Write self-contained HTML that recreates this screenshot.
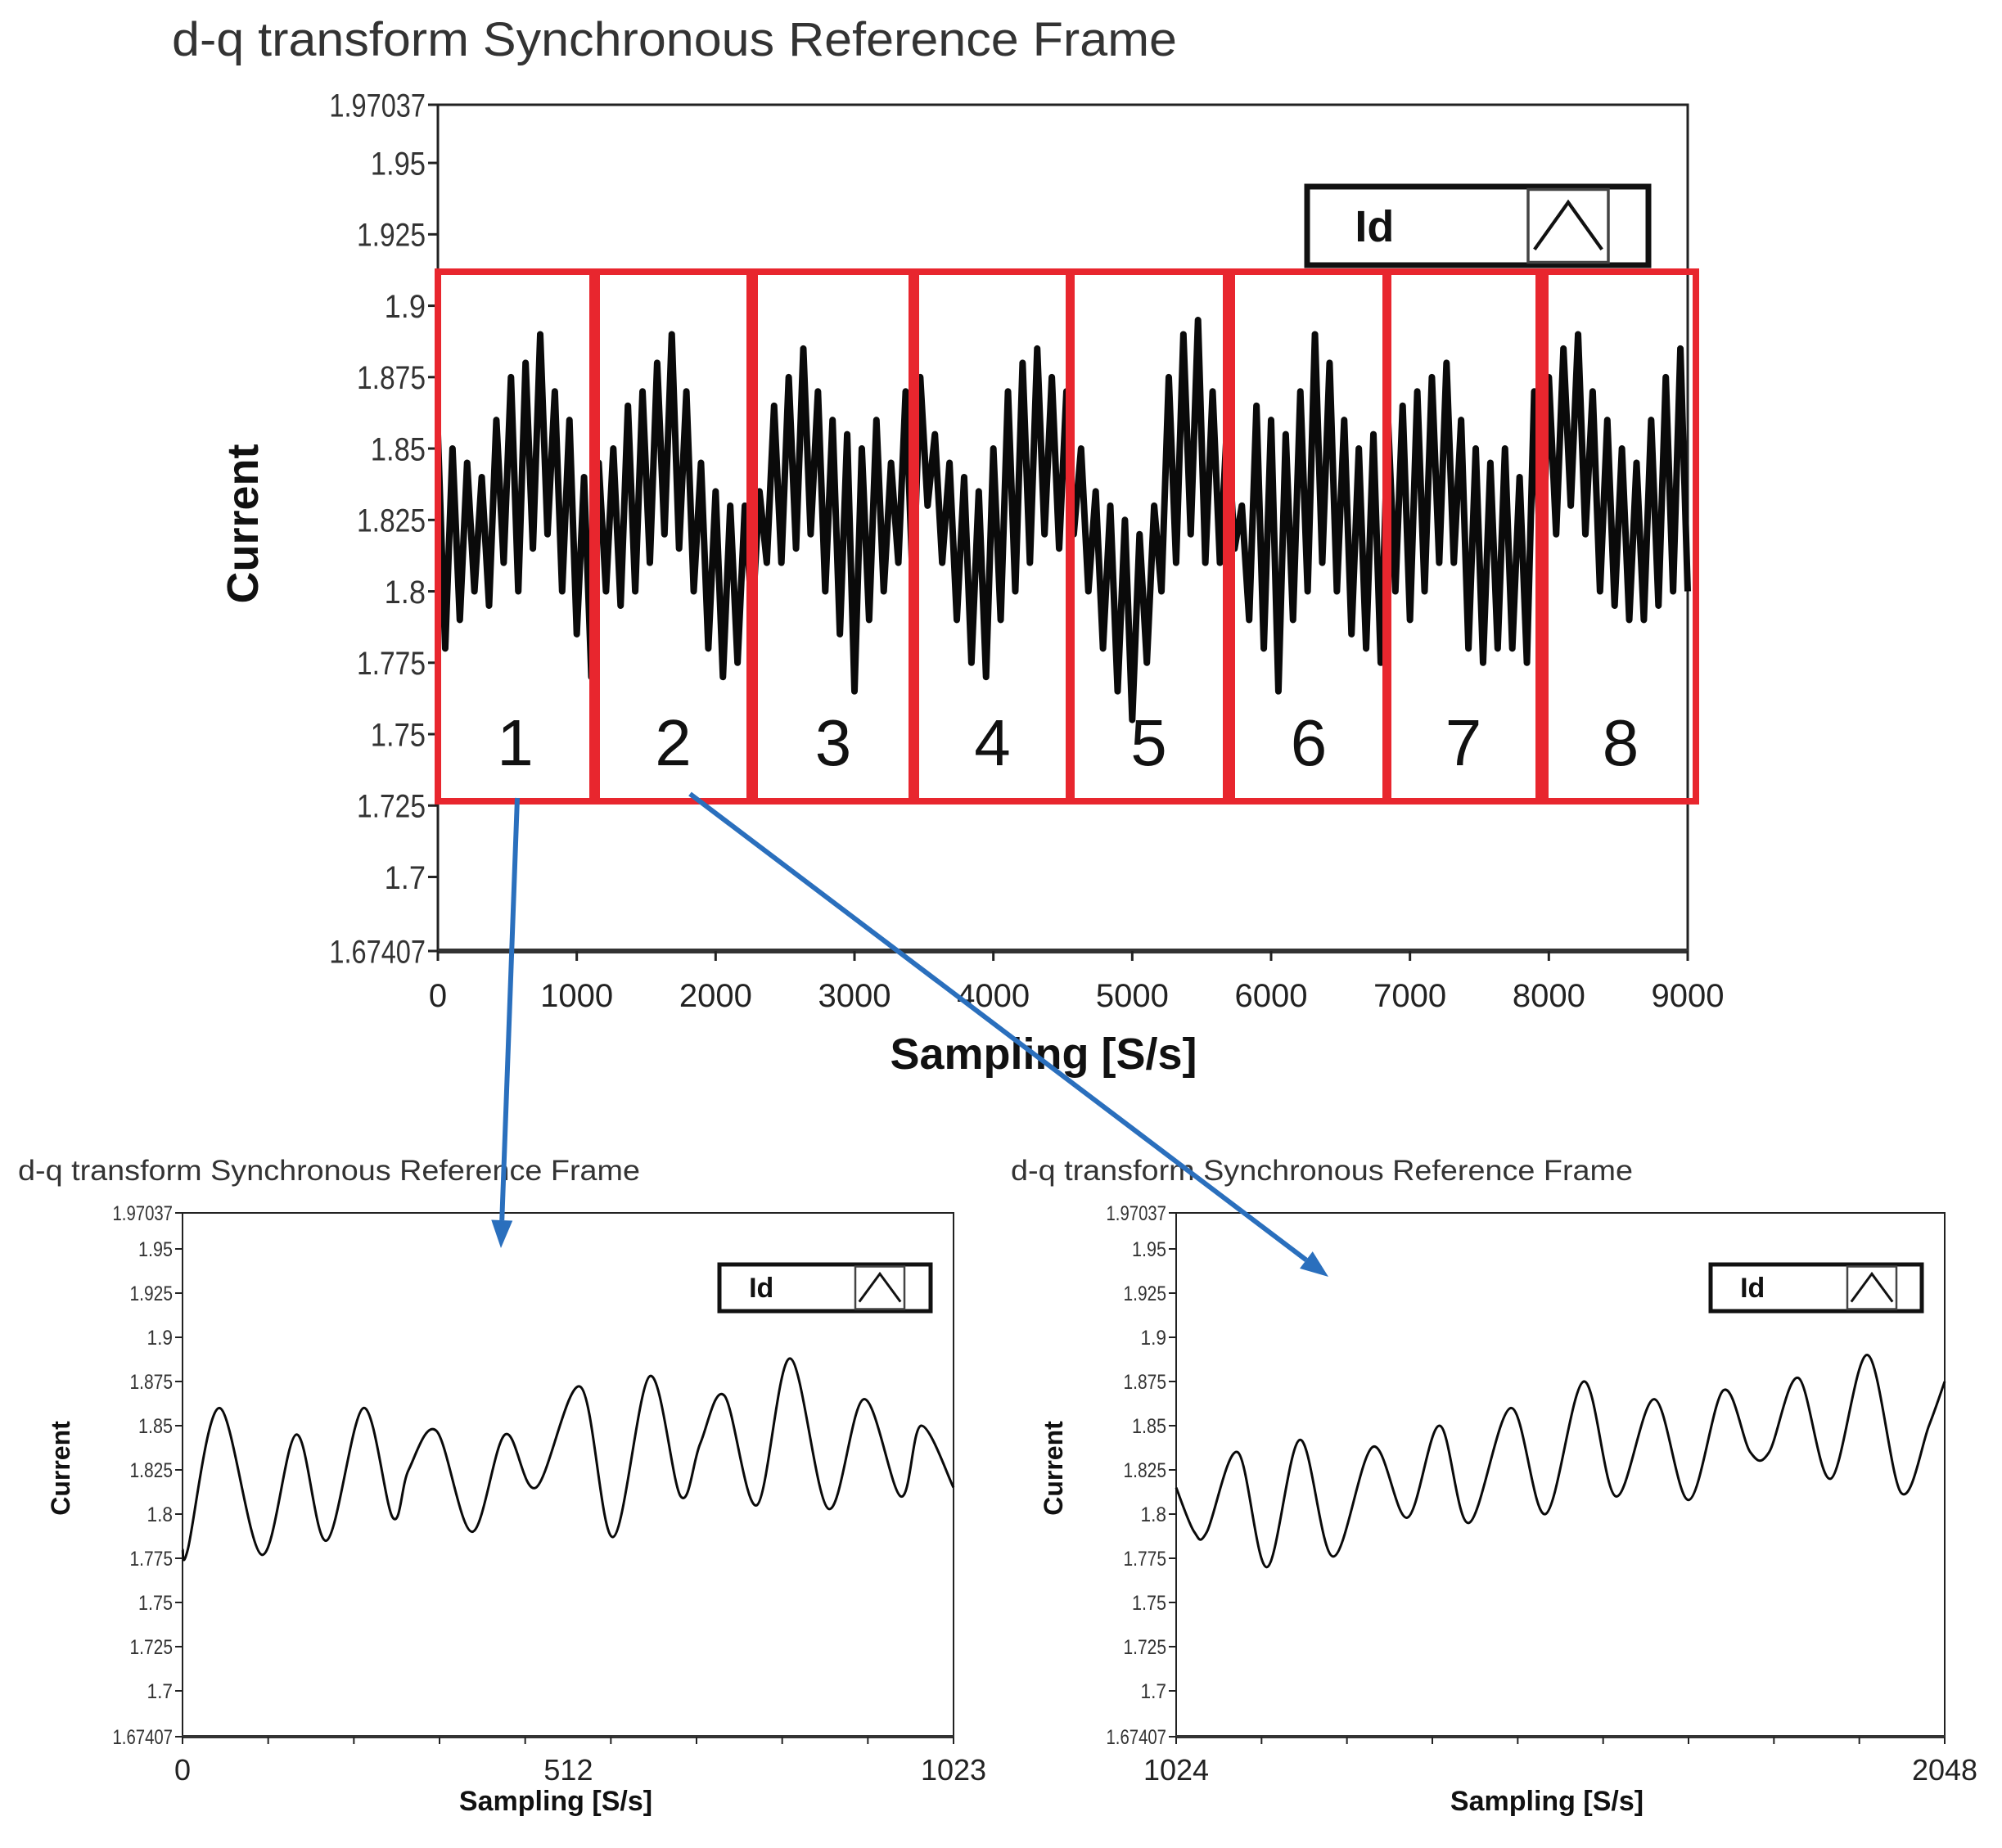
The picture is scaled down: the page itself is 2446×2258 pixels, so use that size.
<!DOCTYPE html>
<html><head><meta charset="utf-8">
<style>
html,body{margin:0;padding:0;background:#fff;}
svg{display:block;font-family:"Liberation Sans",sans-serif;}
</style></head>
<body>
<svg id="c" width="2446" height="2258" viewBox="0 0 2446 2258" xmlns="http://www.w3.org/2000/svg"></svg>
<script>
// ---- data ----
const yTicks = [1.97037,1.95,1.925,1.9,1.875,1.85,1.825,1.8,1.775,1.75,1.725,1.7,1.67407];
const yTickLabels = ["1.97037","1.95","1.925","1.9","1.875","1.85","1.825","1.8","1.775","1.75","1.725","1.7","1.67407"];
const mainXTicks = [0,1000,2000,3000,4000,5000,6000,7000,8000,9000];
const segmentLabels = ["1","2","3","4","5","6","7","8"];
const mainValues = [
1.855,1.78,1.85,1.79,1.845,1.80,1.84,1.795,1.86,1.81,1.875,1.80,1.88,1.815,1.89,1.82,1.87,1.80,1.86,1.785,1.84,1.77,1.845,
1.80,1.85,1.795,1.865,1.80,1.87,1.81,1.88,1.82,1.89,1.815,1.87,1.80,1.845,1.78,1.835,1.77,1.83,1.775,1.83,1.79,1.835,
1.81,1.865,1.81,1.875,1.815,1.885,1.82,1.87,1.80,1.86,1.785,1.855,1.765,1.85,1.79,1.86,1.80,1.845,1.81,1.87,1.80,1.875,
1.83,1.855,1.81,1.845,1.79,1.84,1.775,1.835,1.77,1.85,1.79,1.87,1.80,1.88,1.81,1.885,1.82,1.875,1.815,1.87,1.82,
1.85,1.80,1.835,1.78,1.83,1.765,1.825,1.755,1.82,1.775,1.83,1.80,1.875,1.81,1.89,1.82,1.895,1.81,1.87,1.81,1.86,1.815,
1.83,1.79,1.865,1.78,1.86,1.765,1.855,1.79,1.87,1.80,1.89,1.81,1.88,1.80,1.86,1.785,1.85,1.78,1.855,1.775,1.86,
1.80,1.865,1.79,1.87,1.80,1.875,1.81,1.88,1.81,1.86,1.78,1.85,1.775,1.845,1.78,1.85,1.78,1.84,1.775,1.87,
1.80,1.875,1.82,1.885,1.83,1.89,1.82,1.87,1.80,1.86,1.795,1.85,1.79,1.845,1.79,1.86,1.795,1.875,1.80,1.885,1.80];
const leftSamples = [0,7,49,105,151,191,240,279,300,337,384,428,469,528,571,620,661,687,719,762,806,857,904,953,980,1023];
const leftValues = [1.78,1.78,1.86,1.777,1.845,1.785,1.86,1.798,1.825,1.847,1.79,1.845,1.815,1.872,1.787,1.878,1.81,1.84,1.867,1.805,1.888,1.803,1.865,1.81,1.85,1.815];
const rightSamples = [1024,1048,1065,1106,1145,1189,1233,1286,1332,1375,1414,1470,1516,1567,1610,1661,1707,1753,1789,1814,1853,1896,1945,1990,2027,2048];
const rightValues = [1.815,1.79,1.79,1.835,1.77,1.842,1.776,1.838,1.798,1.85,1.795,1.86,1.80,1.875,1.81,1.865,1.808,1.87,1.835,1.835,1.877,1.82,1.89,1.812,1.85,1.875];

const NS="http://www.w3.org/2000/svg";
const svg=document.getElementById('c');
function mk(tag,attrs,parent,text){const e=document.createElementNS(NS,tag);for(const k in attrs)e.setAttribute(k,attrs[k]);if(text!==undefined)e.textContent=text;(parent||svg).appendChild(e);return e;}

function smoothPath(pts){
  let d=`M${pts[0][0]},${pts[0][1]}`;
  for(let i=0;i<pts.length-1;i++){
    const p0=pts[Math.max(0,i-1)],p1=pts[i],p2=pts[i+1],p3=pts[Math.min(pts.length-1,i+2)];
    const c1=[p1[0]+(p2[0]-p0[0])/6,p1[1]+(p2[1]-p0[1])/6];
    const c2=[p2[0]-(p3[0]-p1[0])/6,p2[1]-(p3[1]-p1[1])/6];
    d+=` C${c1[0]},${c1[1]} ${c2[0]},${c2[1]} ${p2[0]},${p2[1]}`;
  }
  return d;
}

function plot(cfg){
  const g=mk('g',{});
  
  
  const {L,R,T,B,x0,x1}=cfg;
  const ymin=1.67407,ymax=1.97037;
  const sy=v=>B-(v-ymin)/(ymax-ymin)*(B-T);
  const sx=v=>L+(v-x0)/(x1-x0)*(R-L);
  const t=mk('text',{x:cfg.titleX,y:cfg.titleY,'font-size':cfg.titleSize,fill:'#333',textLength:cfg.titleLen,lengthAdjust:'spacingAndGlyphs'},g,'d-q transform Synchronous Reference Frame');
  
  
  const frame=mk('rect',{x:L,y:T,width:R-L,height:B-T,fill:'#fff',stroke:'#222','stroke-width':cfg.frameW},g);
  
  
  mk('line',{x1:L,y1:B,x2:R,y2:B,stroke:'#333','stroke-width':cfg.frameW*2},g);
  yTicks.forEach((v,i)=>{
    const y=sy(v);
    mk('line',{x1:L-cfg.tick,y1:y,x2:L,y2:y,stroke:'#222','stroke-width':cfg.frameW},g);
    const lb=mk('text',{x:L-cfg.tick-3,y:y+cfg.tickSize*0.36,'font-size':cfg.tickSize,'text-anchor':'end',fill:'#333',textLength:yTickLabels[i].length*cfg.tickSize*0.42,lengthAdjust:'spacingAndGlyphs'},g,yTickLabels[i]);
    
    
  });
  cfg.xTickPos.forEach(v=>{
    const x=sx(v);
    mk('line',{x1:x,y1:B,x2:x,y2:B+cfg.tick,stroke:'#222','stroke-width':cfg.frameW},g);
  });
  cfg.xLabels.forEach(([v,s,anchor])=>{
    const lb=mk('text',{x:sx(v),y:cfg.xLabelY,'font-size':cfg.xLabelSize,'text-anchor':anchor,fill:'#222'},g,s);
    
    
  });
  const xt=mk('text',{x:cfg.xTitleX,y:cfg.xTitleY,'font-size':cfg.xTitleSize,'font-weight':'bold','text-anchor':'middle',fill:'#111'},g,'Sampling [S/s]');
  
  
  const yt=mk('text',{x:0,y:0,'font-size':cfg.yTitleSize,'font-weight':'bold','text-anchor':'middle',fill:'#111',transform:`translate(${cfg.yTitleX},${cfg.yTitleY}) rotate(-90)`},g,'Current');
  
  
  let d;
  if(cfg.smooth){
    d=smoothPath(cfg.xs.map((s,i)=>[sx(s),sy(cfg.ys[i])]));
  } else {
    d=cfg.ys.map((v,i)=>(i?'L':'M')+sx(x0+i*(x1-x0)/(cfg.ys.length-1))+','+sy(v)).join(' ');
  }
  const p=mk('path',{d:d,fill:'none',stroke:'#0a0a0a','stroke-width':cfg.lineW,'stroke-linejoin':'round'},g);
  
  
  const lg=cfg.legend;
  const leg=mk('g',{},g);
  
  
  mk('rect',{x:lg.x,y:lg.y,width:lg.w,height:lg.h,fill:'#fff',stroke:'#111','stroke-width':lg.sw},leg);
  mk('text',{x:lg.x+lg.w*0.14,y:lg.y+lg.h*0.7,'font-size':lg.fs,'font-weight':'bold',fill:'#111'},leg,'Id');
  const ab=mk('g',{},leg);
  
  
  mk('rect',{x:lg.ax,y:lg.y+lg.sw/2,width:lg.aw,height:lg.h-lg.sw,fill:'#fff',stroke:'#444','stroke-width':lg.sw/2},ab);
  mk('polyline',{points:`${lg.ax+lg.aw*0.08},${lg.y+lg.h*0.8} ${lg.ax+lg.aw/2},${lg.y+lg.h*0.2} ${lg.ax+lg.aw*0.92},${lg.y+lg.h*0.8}`,fill:'none',stroke:'#111','stroke-width':lg.sw*0.6},ab);
  return {sx,sy,g};
}

const main=plot({name:'main-chart',L:535,R:2062,T:128,B:1162,x0:0,x1:9000,
  titleX:210,titleY:68,titleSize:58,titleLen:1228,frameW:3,tick:12,tickSize:40,
  xTickPos:mainXTicks,xLabels:mainXTicks.map(v=>[v,String(v),'middle']),xLabelY:1230,xLabelSize:40,
  xTitleX:1275,xTitleY:1306,xTitleSize:54,yTitleX:315,yTitleY:640,yTitleSize:54,
  smooth:false,ys:mainValues,lineW:8,
  legend:{x:1597,y:228,w:417,h:96,sw:7,fs:54,ax:1867,aw:98}});

const boxEdges=[[535,724],[729,916],[922,1114],[1119,1306],[1309,1498],[1505,1693],[1696,1880],[1888,2072]];
segmentLabels.forEach((s,i)=>{
  const [a,b]=boxEdges[i];
  const bg=mk('g',{});
  
  
  mk('rect',{x:a,y:332,width:b-a,height:647,fill:'none',stroke:'#e8262e','stroke-width':8},bg);
  mk('text',{x:(a+b)/2,y:935,'font-size':80,'text-anchor':'middle',fill:'#111'},bg,s);
});

const smallCommon={T:1482,B:2122,titleY:1442,titleSize:35,titleLen:760,frameW:2,tick:9,tickSize:25,
  xLabelY:2175,xLabelSize:36,xTitleY:2212,xTitleSize:34,yTitleY:1794,yTitleSize:32,smooth:true,lineW:3};
const tk10=Array.from({length:10},(_,i)=>i);
plot(Object.assign({},smallCommon,{name:'segment-1-chart',L:223,R:1165,x0:0,x1:1023,titleX:22,
  xTickPos:tk10.map(i=>i*1023/9),xLabels:[[0,'0','middle'],[512,'512','middle'],[1023,'1023','middle']],
  xTitleX:679,yTitleX:85,xs:leftSamples,ys:leftValues,
  legend:{x:879,y:1545,w:258,h:57,sw:5,fs:34,ax:1045,aw:60}}));
plot(Object.assign({},smallCommon,{name:'segment-2-chart',L:1437,R:2376,x0:1024,x1:2048,titleX:1235,
  xTickPos:tk10.map(i=>1024+i*1024/9),xLabels:[[1024,'1024','middle'],[2048,'2048','middle']],
  xTitleX:1890,yTitleX:1298,xs:rightSamples,ys:rightValues,
  legend:{x:2090,y:1545,w:258,h:57,sw:5,fs:34,ax:2257,aw:60}}));

[[632,975,612,1525],[843,970,1623,1560]].forEach((a,i)=>{
  const ag=mk('g',{});
  
  
  const [x1,y1,x2,y2]=a;
  const ang=Math.atan2(y2-y1,x2-x1),L=34,W=13;
  const bx=x2-L*Math.cos(ang),by=y2-L*Math.sin(ang);
  mk('line',{x1,y1,x2:bx,y2:by,stroke:'#2a6fbd','stroke-width':6},ag);
  mk('polygon',{points:`${x2},${y2} ${bx-W*Math.sin(ang)},${by+W*Math.cos(ang)} ${bx+W*Math.sin(ang)},${by-W*Math.cos(ang)}`,fill:'#2a6fbd'},ag);
});
</script>
</body></html>
